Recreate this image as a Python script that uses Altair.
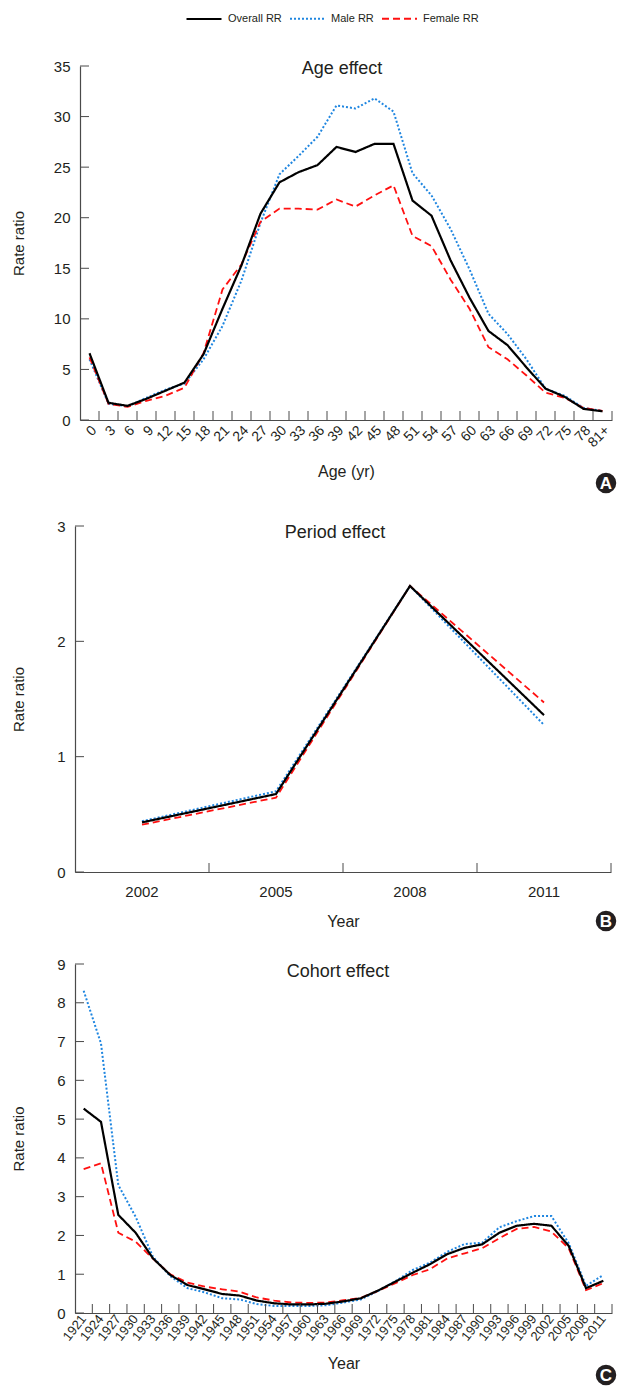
import altair as alt
import pandas as pd

FONT = "Liberation Sans"
TXT = "#231f20"
AX = "#4a4a4a"

SERIES = ["Overall RR", "Male RR", "Female RR"]
COLORS = ["#000000", "#1f86e0", "#ff1010"]
DASHES = [[1, 0], [2, 2], [7, 4]]
WIDTHS = [2.2, 1.8, 2.4]

# ---- Panel A: age effect ----
ages = ["0", "3", "6", "9", "12", "15", "18", "21", "24", "27", "30", "33", "36", "39",
        "42", "45", "48", "51", "54", "57", "60", "63", "66", "69", "72", "75", "78", "81+"]
age_overall = [6.6, 1.7, 1.4, 2.1, 2.9, 3.7, 6.5, 11.0, 15.3, 20.4, 23.5, 24.5, 25.2, 27.0,
               26.5, 27.3, 27.3, 21.7, 20.2, 15.8, 12.1, 8.8, 7.4, 5.2, 3.1, 2.3, 1.1, 0.86]
age_male = [6.0, 1.6, 1.35, 2.2, 3.0, 3.6, 6.0, 9.3, 13.8, 19.5, 24.3, 26.1, 28.0, 31.1,
            30.8, 31.8, 30.5, 24.4, 22.2, 18.9, 14.9, 10.5, 8.5, 6.0, 3.1, 2.4, 1.2, 0.9]
age_female = [6.2, 1.6, 1.3, 1.9, 2.4, 3.2, 6.6, 12.9, 15.4, 19.6, 20.9, 20.9, 20.8, 21.8,
              21.1, 22.2, 23.2, 18.2, 17.2, 13.9, 11.0, 7.2, 6.0, 4.4, 2.7, 2.2, 1.2, 0.9]
age_yticks = [0, 5, 10, 15, 20, 25, 30, 35]

# ---- Panel B: period effect ----
periods = ["2002", "2005", "2008", "2011"]
period_overall = [0.43, 0.676, 2.48, 1.36]
period_male = [0.44, 0.70, 2.48, 1.275]
period_female = [0.41, 0.645, 2.48, 1.47]
period_yticks = [0, 1, 2, 3]

# ---- Panel C: cohort effect ----
cohorts = ["1921", "1924", "1927", "1930", "1933", "1936", "1939", "1942", "1945", "1948",
           "1951", "1954", "1957", "1960", "1963", "1966", "1969", "1972", "1975", "1978",
           "1981", "1984", "1987", "1990", "1993", "1996", "1999", "2002", "2005", "2008", "2011"]
coh_overall = [5.27, 4.93, 2.53, 2.07, 1.41, 0.98, 0.72, 0.61, 0.49, 0.45, 0.32, 0.25,
               0.22, 0.22, 0.24, 0.30, 0.38, 0.58, 0.81, 1.04, 1.26, 1.52, 1.68, 1.77,
               2.07, 2.25, 2.30, 2.25, 1.73, 0.64, 0.83]
coh_male = [8.31, 6.95, 3.30, 2.48, 1.45, 0.95, 0.64, 0.53, 0.38, 0.35, 0.23, 0.18,
            0.18, 0.18, 0.20, 0.27, 0.35, 0.57, 0.82, 1.11, 1.30, 1.58, 1.78, 1.81,
            2.21, 2.37, 2.50, 2.50, 1.80, 0.70, 0.98]
coh_female = [3.71, 3.86, 2.07, 1.84, 1.40, 1.00, 0.78, 0.68, 0.61, 0.55, 0.40, 0.32,
              0.27, 0.26, 0.27, 0.33, 0.39, 0.57, 0.77, 0.98, 1.13, 1.41, 1.54, 1.67,
              1.93, 2.17, 2.22, 2.10, 1.67, 0.59, 0.77]
coh_yticks = [0, 1, 2, 3, 4, 5, 6, 7, 8, 9]

W = 537


def panel(cats, overall, male, female, yticks, h, xrange, yoff, title, title_xy,
          letter, letter_xy, xlab_angle, xlab_size, xlab_pad, xtitle, xtitle_y, ytitle_x):
    rows = []
    for name, vals in (("Male RR", male), ("Female RR", female), ("Overall RR", overall)):
        for c, v in zip(cats, vals):
            rows.append({"cat": c, "value": v, "series": name})
    df = pd.DataFrame(rows)

    xscale = alt.Scale(type="band", domain=cats, paddingInner=0, paddingOuter=0, range=xrange)
    yscale = alt.Scale(domain=[min(yticks), max(yticks)], nice=False, zero=True)
    legend = alt.Legend(title=None)

    x_axis = alt.Axis(ticks=False, domain=True, domainColor=AX, labelAngle=xlab_angle,
                      labelFontSize=xlab_size, labelPadding=xlab_pad, title=xtitle, titleFontSize=16,
                      titleY=xtitle_y, titleBaseline="middle", grid=False)
    y_axis = alt.Axis(values=yticks, ticks=False, domain=True, domainColor=AX,
                      labelFontSize=15, labelPadding=10, title="Rate ratio", titleFontSize=15,
                      titleX=ytitle_x, titleY=h / 2, titleAngle=-90, titleBaseline="bottom",
                      titleAlign="center", offset=yoff, grid=False)

    xenc = alt.X("cat:N", sort=cats, scale=xscale, bandPosition=0.5, axis=x_axis)
    yenc = alt.Y("value:Q", scale=yscale, axis=y_axis)

    lines = alt.Chart(df).mark_line(strokeJoin="miter").encode(
        x=xenc,
        y=yenc,
        color=alt.Color("series:N", scale=alt.Scale(domain=SERIES, range=COLORS), legend=legend),
        strokeDash=alt.StrokeDash("series:N", scale=alt.Scale(domain=SERIES, range=DASHES), legend=legend),
        strokeWidth=alt.StrokeWidth("series:N", scale=alt.Scale(domain=SERIES, range=WIDTHS), legend=None),
    )

    x0 = -yoff
    ytick_rules = alt.Chart(pd.DataFrame({"value": yticks})).mark_rule(color=AX, strokeWidth=1).encode(
        y=yenc,
        x=alt.value(x0), x2=alt.value(x0 + 9),
    )
    xtick_rules = alt.Chart(pd.DataFrame({"cat": cats})).mark_rule(color=AX, strokeWidth=1).encode(
        x=alt.X("cat:N", sort=cats, scale=xscale, bandPosition=1, axis=x_axis),
        y=alt.value(h), y2=alt.value(h - 9),
    )

    lab = pd.DataFrame({"t": [title], "l": [letter]})
    title_mark = alt.Chart(lab).mark_text(font=FONT, fontSize=18, color=TXT, align="center",
                                          baseline="middle").encode(
        text="t:N", x=alt.value(title_xy[0]), y=alt.value(title_xy[1]))
    circ = alt.Chart(lab).mark_circle(size=420, color="#231f20", opacity=1).encode(
        x=alt.value(letter_xy[0]), y=alt.value(letter_xy[1]))
    letter_mark = alt.Chart(lab).mark_text(font=FONT, fontSize=17, fontWeight="bold", color="white",
                                           align="center", baseline="middle").encode(
        text="l:N", x=alt.value(letter_xy[0]), y=alt.value(letter_xy[1] + 1))

    return alt.layer(lines, xtick_rules, ytick_rules, title_mark, circ, letter_mark).properties(
        width=W, height=h)


A = panel(ages, age_overall, age_male, age_female, age_yticks, 354, [5, W], -5,
          "Age effect", (267, 3), "A", (531, 417), -45, 14, 3, "Age (yr)", 51, -54)
B = panel(periods, period_overall, period_male, period_female, period_yticks, 346, [0, W - 1], 0,
          "Period effect", (260, 7), "B", (531, 395), 0, 15, 12, "Year", 49, -49)
C = panel(cohorts, coh_overall, coh_male, coh_female, coh_yticks, 349, [0, W], 0,
          "Cohort effect", (263, 8), "C", (531, 411), -52, 13, 3, "Year", 50, -49)

chart = alt.vconcat(A, B, C, spacing=25).properties(
    padding={"left": 11, "top": 0, "right": 0, "bottom": 0}
).configure_view(strokeWidth=0).configure_axis(
    labelFont=FONT, titleFont=FONT, labelColor=TXT, titleColor=TXT,
    titleFontWeight="normal", domainWidth=1.2
).configure_legend(
    orient="none", legendX=110, legendY=-66, direction="horizontal",
    symbolType="stroke", symbolSize=1225, symbolStrokeWidth=2.5,
    labelFont=FONT, labelFontSize=11, labelColor=TXT, labelOffset=5,
    columnPadding=4, padding=0
)

chart.save("out.html", embed_options={"renderer": "svg", "actions": False})
